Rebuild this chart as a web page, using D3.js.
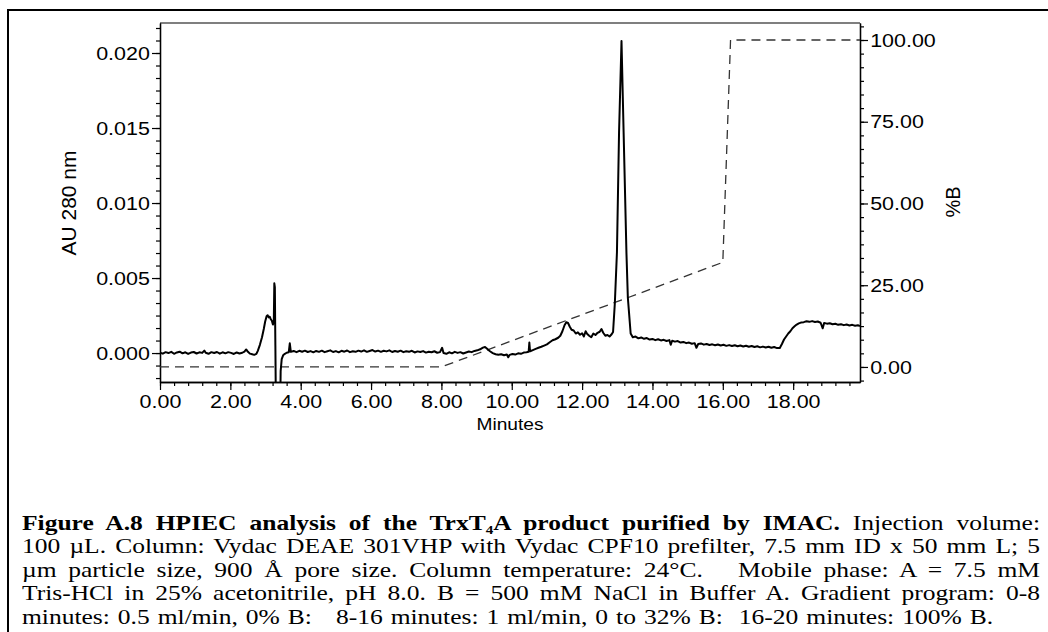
<!doctype html>
<html>
<head>
<meta charset="utf-8"/>
<title>HPIEC TrxT4A</title>
<script src="https://d3js.org/d3.v7.min.js"></script>
<style>
  body { margin: 0; background: #fff; }
  text { font-family: "Liberation Sans", Arial, sans-serif; }
  .cap { font-family: "Liberation Serif", "Times New Roman", serif; font-size: 22px; white-space: pre; }
</style>
</head>
<body>
<script>
// chromatogram, minutes vs mAU at 280 nm
var absorbanceMAU = [
 [0.00,0.03],[0.08,-0.04],[0.16,0.06],[0.24,0.00],[0.32,0.08],[0.40,-0.05],[0.48,0.04],[0.56,0.09],
 [0.64,-0.02],[0.72,0.05],[0.80,-0.06],[0.88,0.03],[0.96,0.07],[1.04,-0.03],[1.12,0.05],[1.20,0.01],
 [1.26,0.16],[1.30,0.02],[1.38,-0.05],[1.46,0.06],[1.54,0.00],[1.62,0.07],[1.70,-0.04],[1.78,0.05],
 [1.86,-0.02],[1.94,0.06],[2.02,0.01],[2.10,-0.06],[2.18,0.04],[2.26,-0.03],[2.34,0.02],[2.40,0.10],
 [2.45,0.24],[2.50,0.08],[2.56,-0.04],[2.62,-0.08],[2.68,-0.12],[2.74,-0.06],[2.78,0.15],[2.84,0.55],
 [2.90,1.05],[2.95,1.60],[2.99,2.10],[3.03,2.45],[3.06,2.52],[3.09,2.38],[3.12,2.42],[3.15,2.25],
 [3.18,2.15],[3.21,1.90],[3.235,2.05],[3.25,4.65],[3.265,4.40],[3.28,0.50],[3.30,-5.00],[3.41,-5.00],
 [3.43,-1.20],[3.46,-0.40],[3.50,-0.15],[3.55,-0.05],[3.60,0.02],[3.66,0.05],[3.69,0.65],[3.72,0.08],
 [3.80,0.14],[3.88,0.06],[3.96,0.15],[4.04,0.09],[4.12,0.16],[4.20,0.07],[4.28,0.13],[4.36,0.05],
 [4.44,0.14],[4.52,0.08],[4.60,0.16],[4.68,0.06],[4.76,0.12],[4.84,0.18],[4.92,0.07],[5.00,0.13],
 [5.08,0.05],[5.16,0.15],[5.24,0.09],[5.32,0.17],[5.40,0.06],[5.48,0.12],[5.56,0.08],[5.64,0.16],
 [5.72,0.10],[5.80,0.18],[5.88,0.08],[5.96,0.14],[6.04,0.20],[6.12,0.10],[6.20,0.16],[6.28,0.08],
 [6.36,0.15],[6.44,0.11],[6.52,0.18],[6.60,0.07],[6.68,0.14],[6.76,0.09],[6.84,0.16],[6.92,0.06],
 [7.00,0.12],[7.08,0.08],[7.16,0.15],[7.24,0.04],[7.32,0.11],[7.40,0.07],[7.48,0.13],[7.56,0.03],
 [7.64,0.09],[7.72,0.05],[7.80,0.12],[7.88,0.02],[7.96,0.06],[8.02,0.35],[8.06,0.00],[8.14,-0.05],
 [8.22,0.05],[8.30,-0.02],[8.38,0.08],[8.46,0.01],[8.54,0.06],[8.62,-0.03],[8.70,0.04],[8.78,0.10],
 [8.86,0.06],[8.94,0.14],[9.02,0.18],[9.10,0.25],[9.18,0.36],[9.24,0.40],[9.30,0.28],[9.38,0.12],
 [9.46,0.00],[9.54,-0.08],[9.62,-0.12],[9.70,-0.08],[9.78,-0.15],[9.86,-0.10],[9.90,-0.28],[9.94,-0.12],
 [10.02,-0.06],[10.10,-0.10],[10.18,-0.02],[10.26,-0.05],[10.34,0.03],[10.42,0.05],[10.48,0.08],[10.50,0.70],
 [10.52,0.12],[10.60,0.20],[10.68,0.28],[10.76,0.35],[10.84,0.42],[10.92,0.50],[11.00,0.58],[11.08,0.72],
 [11.16,0.85],[11.24,0.92],[11.32,1.02],[11.38,1.15],[11.44,1.45],[11.50,1.85],[11.55,2.05],[11.60,2.00],
 [11.65,1.75],[11.70,1.55],[11.76,1.50],[11.82,1.30],[11.88,1.38],[11.94,1.22],[12.00,1.32],[12.05,1.10],
 [12.10,1.45],[12.14,1.28],[12.20,1.15],[12.26,1.05],[12.32,1.30],[12.38,1.20],[12.44,1.35],[12.50,1.42],
 [12.55,1.60],[12.60,1.35],[12.66,1.15],[12.72,1.20],[12.78,1.10],[12.84,1.25],[12.88,1.40],[12.93,3.30],
 [12.99,6.70],[13.05,14.70],[13.12,20.80],[13.18,14.70],[13.26,6.70],[13.30,3.70],[13.38,1.30],[13.44,1.05],
 [13.52,1.10],[13.60,0.98],[13.68,1.04],[13.76,0.95],[13.84,1.00],[13.92,0.90],[14.00,0.94],[14.08,0.86],
 [14.16,0.92],[14.24,0.84],[14.32,0.88],[14.40,0.80],[14.48,0.86],[14.52,0.55],[14.56,0.82],[14.64,0.76],
 [14.72,0.80],[14.80,0.70],[14.88,0.74],[14.96,0.66],[15.04,0.70],[15.12,0.62],[15.20,0.66],[15.25,0.35],
 [15.30,0.60],[15.38,0.64],[15.46,0.56],[15.54,0.60],[15.62,0.54],[15.70,0.58],[15.78,0.52],[15.86,0.57],
 [15.94,0.50],[16.02,0.55],[16.10,0.48],[16.18,0.53],[16.26,0.47],[16.34,0.52],[16.42,0.45],[16.50,0.50],
 [16.58,0.44],[16.66,0.49],[16.74,0.42],[16.82,0.47],[16.90,0.40],[16.98,0.45],[17.06,0.38],[17.14,0.43],
 [17.22,0.37],[17.30,0.42],[17.38,0.35],[17.46,0.40],[17.54,0.33],[17.62,0.34],[17.68,0.60],[17.74,0.90],
 [17.80,1.10],[17.86,1.30],[17.92,1.45],[17.98,1.65],[18.04,1.78],[18.10,1.90],[18.16,1.98],[18.22,2.03],
 [18.30,2.06],[18.38,2.12],[18.46,2.08],[18.54,2.13],[18.62,2.07],[18.70,2.10],[18.78,2.02],[18.84,1.65],
 [18.88,2.00],[18.96,1.96],[19.04,1.99],[19.12,1.92],[19.20,1.95],[19.28,1.88],[19.36,1.92],[19.44,1.86],
 [19.52,1.90],[19.60,1.84],[19.68,1.88],[19.76,1.82],[19.84,1.85],[19.90,1.80]
];

// gradient program, %B
var gradientMin = [0, 8, 16, 16.22, 19.9];
var gradientB   = [0, 0, 32, 100, 100];

var xMajor = [0, 2, 4, 6, 8, 10, 12, 14, 16, 18];
var auMajor = [0, 0.005, 0.010, 0.015, 0.020];
var bMajor = [0, 25, 50, 75, 100];

var captionLines = [
  null,
  "100 \u00b5L. Column: Vydac DEAE 301VHP with Vydac CPF10 prefilter, 7.5 mm ID x 50 mm L; 5",
  "\u00b5m particle size, 900 \u00c5 pore size. Column temperature: 24\u00b0C.   Mobile phase: A = 7.5 mM",
  "Tris-HCl in 25% acetonitrile, pH 8.0. B = 500 mM NaCl in Buffer A. Gradient program: 0-8",
  "minutes: 0.5 ml/min, 0% B:   8-16 minutes: 1 ml/min, 0 to 32% B:  16-20 minutes: 100% B."
];

var W = 1048, H = 632;
var L = 160, R = 860, T = 23, B = 382;
var stretch = 1.13;     // the scanned figure is a little wider than tall

var svg = d3.select("body").append("svg")
  .attr("width", W).attr("height", H);

// outer frame
svg.append("rect").attr("x", 8).attr("y", 10).attr("width", 1200).attr("height", 900)
  .attr("fill", "none").attr("stroke", "#000").attr("stroke-width", 2);

var x = d3.scaleLinear().domain([0, 19.9]).range([L, R]);
var yAU = d3.scaleLinear().domain([-0.00193, 0.022]).range([B, T]);
var yB = d3.scaleLinear().domain([-4.6, 105.2]).range([B, T]);

svg.append("clipPath").attr("id", "plotclip").append("rect")
  .attr("x", L).attr("y", T).attr("width", R - L).attr("height", B - T);

// box
svg.append("line").attr("x1", L).attr("x2", R).attr("y1", T).attr("y2", T)
  .attr("stroke", "#555").attr("stroke-width", 1.5);

function minorList(step, lo, hi) {
  var out = [];
  for (var k = Math.ceil(lo / step - 1e-9); k * step <= hi + 1e-9; k++) out.push(k * step);
  return out;
}

function styleAxis(g) {
  g.select(".domain").attr("stroke", "#000").attr("stroke-width", 1.3);
  g.selectAll(".tick line").attr("stroke", "#000").attr("stroke-width", 1.2);
  g.selectAll("text").attr("font-size", 19).attr("fill", "#000")
    .attr("font-family", "'Liberation Sans', Arial, sans-serif")
    .attr("transform", "scale(" + stretch + ",1)");
}

// x axis
var gx = svg.append("g").attr("transform", "translate(0," + B + ")");
gx.call(d3.axisBottom(x).tickValues(minorList(0.4, 0, 19.9)).tickSize(4).tickFormat("").tickSizeOuter(0));
var gx2 = svg.append("g").attr("transform", "translate(0," + B + ")");
gx2.call(d3.axisBottom(x).tickValues(xMajor).tickSize(8).tickPadding(5).tickFormat(d3.format(".2f")).tickSizeOuter(0));
styleAxis(gx); styleAxis(gx2);

// left axis
var gl = svg.append("g").attr("transform", "translate(" + L + ",0)");
gl.call(d3.axisLeft(yAU).tickValues(minorList(0.005 / 6, -0.00193, 0.022)).tickSize(4).tickFormat("").tickSizeOuter(0));
var gl2 = svg.append("g").attr("transform", "translate(" + L + ",0)");
gl2.call(d3.axisLeft(yAU).tickValues(auMajor).tickSize(8).tickPadding(1).tickFormat(d3.format(".3f")).tickSizeOuter(0));
styleAxis(gl); styleAxis(gl2);

// right axis
var gr = svg.append("g").attr("transform", "translate(" + R + ",0)");
gr.call(d3.axisRight(yB).tickValues(minorList(25 / 6, -4.6, 105.2)).tickSize(4).tickFormat("").tickSizeOuter(0));
var gr2 = svg.append("g").attr("transform", "translate(" + R + ",0)");
gr2.call(d3.axisRight(yB).tickValues(bMajor).tickSize(8).tickPadding(1).tickFormat(d3.format(".2f")).tickSizeOuter(0));
styleAxis(gr); styleAxis(gr2);

// axis titles
svg.append("text").attr("transform", "translate(510,430) scale(" + stretch + ",1)").attr("text-anchor", "middle")
  .attr("font-size", 17).text("Minutes");
svg.append("text").attr("transform", "translate(76,203) rotate(-90)").attr("text-anchor", "middle")
  .attr("font-size", 21).text("AU 280 nm");
svg.append("text").attr("transform", "translate(960,202) rotate(-90)").attr("text-anchor", "middle")
  .attr("font-size", 20).text("%B");

var plot = svg.append("g").attr("clip-path", "url(#plotclip)");

// gradient
var grad = gradientMin.map(function (t, i) { return [t, gradientB[i]]; });
plot.append("path").datum(grad)
  .attr("d", d3.line().x(function (d) { return x(d[0]); }).y(function (d) { return yB(d[1]); }))
  .attr("fill", "none").attr("stroke", "#333").attr("stroke-width", 1.3)
  .attr("stroke-dasharray", "9,6");

// trace
plot.append("path").datum(absorbanceMAU)
  .attr("d", d3.line().x(function (d) { return x(d[0]); }).y(function (d) { return yAU(d[1] / 1000); }))
  .attr("fill", "none").attr("stroke", "#000").attr("stroke-width", 2)
  .attr("stroke-linejoin", "round");

// caption
var capX = 22, capRight = 1040, capY0 = 530, capDy = 23.4, capStretch = 1.16;
var cap = svg.append("g").attr("transform", "translate(" + capX + ",0) scale(" + capStretch + ",1)");

var l1 = cap.append("text").attr("class", "cap").attr("x", 0).attr("y", capY0);
l1.append("tspan").attr("font-weight", "bold").text("Figure A.8 HPIEC analysis of the TrxT");
l1.append("tspan").attr("font-weight", "bold").attr("font-size", 13).attr("dy", 4).text("4");
l1.append("tspan").attr("font-weight", "bold").attr("dy", -4).text("A product purified by IMAC.");
l1.append("tspan").text(" Injection volume:");

captionLines.forEach(function (s, i) {
  if (s === null) return;
  cap.append("text").attr("class", "cap").attr("x", 0).attr("y", capY0 + i * capDy).text(s);
});

// justify all lines but the last, which just keeps a slightly loose spacing
var capWidth = (capRight - capX) / capStretch;
cap.selectAll("text").each(function (d, i, nodes) {
  if (i === nodes.length - 1) { d3.select(this).attr("word-spacing", 1.4); return; }
  var str = this.textContent;
  var spaces = (str.match(/ /g) || []).length;
  var w = this.getComputedTextLength();
  if (spaces > 0) d3.select(this).attr("word-spacing", (capWidth - w) / spaces);
});
</script>
</body>
</html>
